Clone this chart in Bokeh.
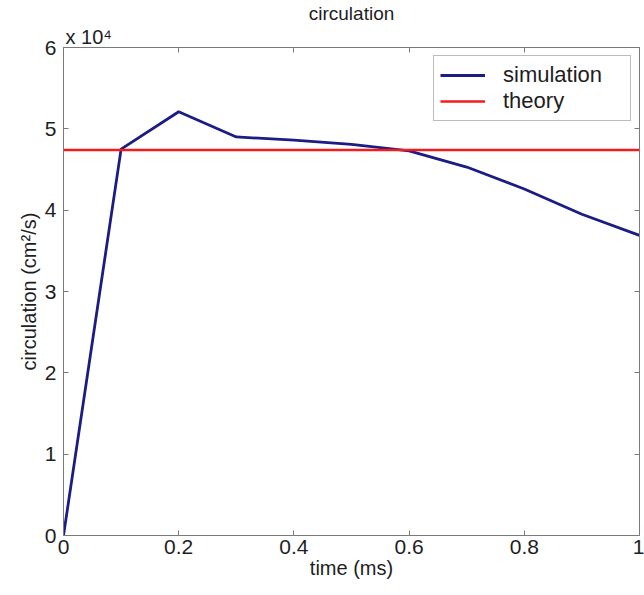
from bokeh.plotting import figure
from bokeh.models import Range1d, LinearAxis, Title, FixedTicker, Legend, LegendItem
from bokeh.embed import file_html
from bokeh.resources import INLINE

time_ms = [0.0, 0.1, 0.2, 0.3, 0.4, 0.5, 0.6, 0.7, 0.8, 0.9, 1.0]
simulation = [0, 47500, 52100, 49000, 48600, 48100, 47300, 45300, 42600, 39500, 36900]
theory_t = [0.0, 1.0]
theory = [47400, 47400]

x_ticks = [0, 0.2, 0.4, 0.6, 0.8, 1.0]
x_tick_labels = ["0", "0.2", "0.4", "0.6", "0.8", "1"]
y_ticks = [0, 10000, 20000, 30000, 40000, 50000, 60000]
y_tick_labels = ["0", "1", "2", "3", "4", "5", "6"]

FONT = "Liberation Sans"
AX = "#7a7a7a"
TXT = "#1e1e1e"

p = figure(width=644, height=595, output_backend="svg", toolbar_location=None,
           x_range=Range1d(0, 1), y_range=Range1d(0, 60000),
           min_border_left=63, min_border_right=5, min_border_top=46, min_border_bottom=60)
p.grid.visible = False
p.outline_line_color = AX
p.background_fill_color = "white"

def style(ax, labels=True):
    ax.axis_line_color = AX
    ax.major_tick_line_color = AX
    ax.minor_tick_line_color = None
    ax.major_tick_in = 5
    ax.major_tick_out = 0
    ax.major_label_text_font = FONT
    ax.major_label_text_font_size = "21px"
    ax.major_label_text_color = TXT
    ax.axis_label_text_font = FONT
    ax.axis_label_text_font_size = "20px"
    ax.axis_label_text_font_style = "normal"
    ax.axis_label_text_color = TXT
    if not labels:
        ax.major_label_text_alpha = 0
        ax.major_label_text_font_size = "0px"
        ax.major_label_standoff = 0

p.xaxis.ticker = FixedTicker(ticks=x_ticks)
p.xaxis.major_label_overrides = dict(zip(x_ticks, x_tick_labels))
p.yaxis.ticker = FixedTicker(ticks=y_ticks)
p.yaxis.major_label_overrides = dict(zip(y_ticks, y_tick_labels))
p.xaxis.axis_label = "time (ms)"
p.yaxis.axis_label = "circulation (cm²/s)"
p.xaxis.major_label_standoff = 4
p.xaxis.axis_label_standoff = 0
p.yaxis.major_label_standoff = 7
p.yaxis.axis_label_standoff = 2
style(p.xaxis[0])
style(p.yaxis[0])

top = LinearAxis(ticker=FixedTicker(ticks=x_ticks))
right = LinearAxis(ticker=FixedTicker(ticks=y_ticks))
style(top, labels=False)
style(right, labels=False)
p.add_layout(top, "above")
p.add_layout(right, "right")

exp_title = Title(text="x 10⁴", align="left", offset=2, standoff=0,
                  text_font=FONT, text_font_size="20px", text_font_style="normal",
                  text_color=TXT, text_line_height=0.8)
main_title = Title(text="circulation", align="center", standoff=0,
                   text_font=FONT, text_font_size="19px", text_font_style="normal",
                   text_color=TXT, text_line_height=0.9)
p.add_layout(exp_title, "above")
p.add_layout(main_title, "above")

r_sim = p.line(time_ms, simulation, line_color="#1c1c84", line_width=2.8)
r_th = p.line(theory_t, theory, line_color="#f21c1c", line_width=2.3)

legend = Legend(items=[LegendItem(label="simulation", renderers=[r_sim]),
                       LegendItem(label="theory", renderers=[r_th])],
                location="top_right")
legend.label_text_font = FONT
legend.label_text_font_size = "22px"
legend.label_text_color = TXT
legend.glyph_width = 45
legend.glyph_height = 24
legend.label_height = 24
legend.label_width = 121
legend.spacing = 0
legend.padding = 6
legend.margin = 8
legend.border_line_color = AX
legend.label_standoff = 18
p.add_layout(legend)

open("out.html", "w").write(file_html(p, INLINE))
